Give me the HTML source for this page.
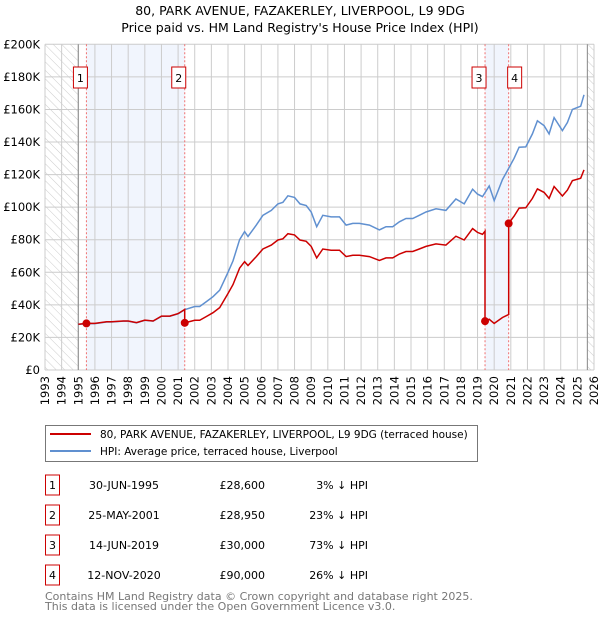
<!DOCTYPE html>
<html><head><meta charset="utf-8"><style>
body{margin:0;background:#fff;width:600px;height:620px;overflow:hidden}
svg text{font-family:"DejaVu Sans","Liberation Sans",sans-serif}
</style></head><body>
<svg id="chart" width="600" height="620" viewBox="0 0 600 620">
<defs><pattern id="hatch" width="6" height="6" patternUnits="userSpaceOnUse" patternTransform="rotate(-45)"><line x1="0" y1="0" x2="0" y2="6" stroke="#ccc" stroke-width="1"/></pattern></defs>
<text x="300" y="15" text-anchor="middle" font-size="12.5">80, PARK AVENUE, FAZAKERLEY, LIVERPOOL, L9 9DG</text>
<text x="300" y="32" text-anchor="middle" font-size="12.5">Price paid vs. HM Land Registry's House Price Index (HPI)</text>
<g id="plot"></g>
<g>
<rect x="45.5" y="425.5" width="432" height="36" fill="#fff" stroke="#777"/>
<line x1="50" y1="434" x2="91" y2="434" stroke="#cc0000" stroke-width="2"/>
<text x="100" y="438" font-size="10.5">80, PARK AVENUE, FAZAKERLEY, LIVERPOOL, L9 9DG (terraced house)</text>
<line x1="50" y1="451" x2="91" y2="451" stroke="#6090d0" stroke-width="2"/>
<text x="100" y="455" font-size="10.5">HPI: Average price, terraced house, Liverpool</text>
</g>
<g id="table"></g>
<text x="45" y="600" font-size="11" fill="#777">Contains HM Land Registry data © Crown copyright and database right 2025.</text>
<text x="45" y="610" font-size="11" fill="#777">This data is licensed under the Open Government Licence v3.0.</text>
</svg>
<script>
const hpiYears=[1995.0,1995.5,1996.0,1996.7,1997.0,1997.7,1998.0,1998.5,1999.0,1999.5,2000.0,2000.5,2001.0,2001.4,2002.0,2002.3,2002.7,2003.1,2003.5,2004.0,2004.3,2004.7,2005.0,2005.2,2005.7,2006.1,2006.6,2007.0,2007.3,2007.6,2008.0,2008.33,2008.7,2009.0,2009.33,2009.7,2010.2,2010.7,2011.1,2011.5,2011.9,2012.5,2013.1,2013.5,2013.9,2014.3,2014.7,2015.1,2015.5,2015.9,2016.5,2017.1,2017.7,2018.2,2018.7,2019.0,2019.3,2019.7,2020.0,2020.5,2020.8,2021.2,2021.5,2021.9,2022.3,2022.6,2023.0,2023.3,2023.6,2024.1,2024.4,2024.7,2025.2,2025.4];
const hpiValues=[28000,28500,28500,29500,29500,30000,30000,29000,30500,30000,33000,33000,34500,37000,39000,39000,42000,45000,49000,60000,67000,80000,85000,82000,89000,95000,98000,102000,103000,107000,106000,102000,101000,97000,88000,95000,94000,94000,89000,90000,90000,89000,86000,88000,88000,91000,93000,93000,95000,97000,99000,98000,105000,102000,111000,108000,106500,113000,104000,117000,122500,130000,136800,137000,145000,153000,150000,145000,155000,147000,152000,160000,162000,169000];
const saleYears=[1995.49,2001.40,2019.45,2020.87];
const salePrices=[28600,28950,30000,90000];
const saleLabels=["1","2","3","4"];
const saleDates=["30-JUN-1995","25-MAY-2001","14-JUN-2019","12-NOV-2020"];
const saleHpiText=["3% ↓ HPI","23% ↓ HPI","73% ↓ HPI","26% ↓ HPI"];
const yTicks=[0,20000,40000,60000,80000,100000,120000,140000,160000,180000,200000];
const yTickLabels=["£0","£20K","£40K","£60K","£80K","£100K","£120K","£140K","£160K","£180K","£200K"];

const X0=45,X1=594,Y0=370,Y1=44.3,XMIN=1993,XMAX=2026,YMAX=200000;
const sx=v=>X0+(v-XMIN)/(XMAX-XMIN)*(X1-X0);
const sy=v=>Y0-v/YMAX*(Y0-Y1);
const NS="http://www.w3.org/2000/svg";
const plot=document.getElementById('plot');
function mk(tag,attrs,parent){const e=document.createElementNS(NS,tag);for(const k in attrs)e.setAttribute(k,attrs[k]);(parent||plot).appendChild(e);return e;}
function hpiAt(t){if(t<=hpiYears[0])return hpiValues[0];for(let i=1;i<hpiYears.length;i++){if(t<=hpiYears[i]){const f=(t-hpiYears[i-1])/(hpiYears[i]-hpiYears[i-1]);return hpiValues[i-1]+f*(hpiValues[i]-hpiValues[i-1]);}}return hpiValues[hpiValues.length-1];}

for(const [a,b] of [[0,1],[2,3]]){
const r=mk('rect',{x:sx(saleYears[a]),y:Y1,width:sx(saleYears[b])-sx(saleYears[a]),height:Y0-Y1,fill:'#eef3fc',opacity:0.8});


}
const h1=mk('rect',{x:X0,y:Y1,width:sx(1995)-X0,height:Y0-Y1,fill:'url(#hatch)'});


const h2=mk('rect',{x:sx(2025.6),y:Y1,width:X1-sx(2025.6),height:Y0-Y1,fill:'url(#hatch)'});


for(let y=XMIN;y<=XMAX;y++){
const l=mk('line',{x1:sx(y),x2:sx(y),y1:Y1,y2:Y0,stroke:'#ccc','stroke-width':1});


const t=mk('text',{x:0,y:0,'font-size':11.5,'text-anchor':'end',transform:`translate(${sx(y)+4},376) rotate(-90)`});
t.textContent=y;


}
yTicks.forEach((v,i)=>{
const l=mk('line',{x1:X0,x2:X1,y1:sy(v),y2:sy(v),stroke:'#ccc','stroke-width':1});


const t=mk('text',{x:40,y:sy(v)+4,'font-size':11.5,'text-anchor':'end'});
t.textContent=yTickLabels[i];


});
const b1=mk('line',{x1:sx(1995),x2:sx(1995),y1:Y1,y2:Y0,stroke:'#888'});


const b2=mk('line',{x1:sx(2025.6),x2:sx(2025.6),y1:Y1,y2:Y0,stroke:'#888'});


saleYears.forEach((y,i)=>{
const l=mk('line',{x1:sx(y),x2:sx(y),y1:Y1,y2:Y0,stroke:'#f07070','stroke-dasharray':'2,2'});


});
let d=hpiYears.map((y,i)=>(i?'L':'M')+sx(y).toFixed(1)+','+sy(hpiValues[i]).toFixed(1)).join('');
const hp=mk('path',{d:d,fill:'none',stroke:'#6090d0','stroke-width':1.5});


let pts=[];
const ts=[...hpiYears,...saleYears].sort((a,b)=>a-b);
for(const t of ts){
let k=0;for(let i=0;i<saleYears.length;i++)if(t>=saleYears[i])k=i;
pts.push([t,salePrices[k]*hpiAt(t)/hpiAt(saleYears[k])]);
}
let pd='';
for(let i=0;i<pts.length;i++){
const [t,v]=pts[i];
const si=saleYears.indexOf(t);
if(si>0){const pv=salePrices[si-1]*hpiAt(t)/hpiAt(saleYears[si-1]);pd+='L'+sx(t).toFixed(1)+','+sy(pv).toFixed(1);}
pd+=(pd?'L':'M')+sx(t).toFixed(1)+','+sy(v).toFixed(1);
}
const rp=mk('path',{d:pd,fill:'none',stroke:'#cc0000','stroke-width':1.5});


saleYears.forEach((y,i)=>{
const c=mk('circle',{cx:sx(y),cy:sy(salePrices[i]),r:4,fill:'#cc0000'});


const lx=[sx(y)-6,sx(y)-6,sx(y)-6,sx(y)+6][i];
const r=mk('rect',{x:lx-7,y:67,width:14,height:21,fill:'#fff',stroke:'#cc0000'});


const t=mk('text',{x:lx,y:82,'font-size':11,'text-anchor':'middle'});
t.textContent=saleLabels[i];


});
const tb=document.getElementById('table');
saleYears.forEach((y,i)=>{
const cy=485+i*30;
const r=mk('rect',{x:45.5,y:cy-10,width:14,height:20,fill:'#fff',stroke:'#cc0000'},tb);


const n=mk('text',{x:52.5,y:cy+4,'font-size':11,'text-anchor':'middle'},tb);n.textContent=saleLabels[i];


const dt=mk('text',{x:124,y:cy+4,'font-size':11,'text-anchor':'middle'},tb);dt.textContent=saleDates[i];


const p=mk('text',{x:265,y:cy+4,'font-size':11,'text-anchor':'end'},tb);p.textContent='£'+salePrices[i].toLocaleString('en-GB');


const hh=mk('text',{x:368,y:cy+4,'font-size':11,'text-anchor':'end'},tb);hh.textContent=saleHpiText[i];


});
</script>
</body></html>
